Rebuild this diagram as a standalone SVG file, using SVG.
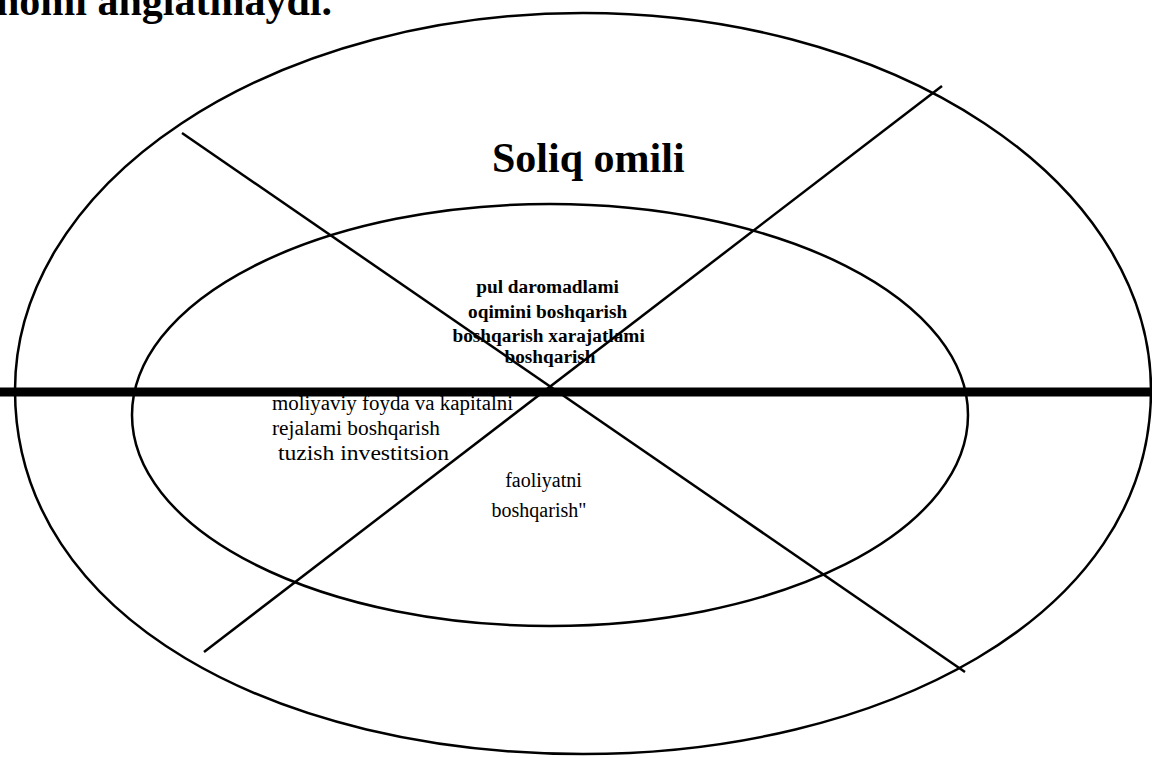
<svg xmlns="http://www.w3.org/2000/svg" width="1152" height="758" viewBox="0 0 1152 758">
  <style>
    .shape { fill: none; stroke: #000; stroke-width: 2.5; }
    .ln { stroke: #000; stroke-width: 2.5; fill: none; }
    .thick { stroke: #000; stroke-width: 9; }
    .t { font-family: "Liberation Serif", "Times New Roman", serif; fill: #000; }
    .small { font-size: 20px; }
    .bold { font-weight: bold; font-size: 19.3px; }
    .title { font-size: 42px; font-weight: bold; }
    .head { font-size: 42px; font-weight: bold; }
  </style>
  <rect width="1152" height="758" fill="#fff"/>
  <g id="heading">
    <text class="t head" x="-4" y="15">nomi anglatmaydi.</text>
  </g>
  <g id="outer-ellipse">
    <path class="shape" d="M1151,390 A568,377 0 0 0 15,390 C15,620 280,754 583,754 C876,754 1151,620 1151,390 Z"/>
    <text class="t title" x="492" y="172">Soliq omili</text>
  </g>
  <g id="inner-ellipse">
    <ellipse class="shape" cx="550" cy="415" rx="418" ry="211"/>
  </g>
  <g id="connectors">
    <line class="thick" x1="0" y1="392" x2="1152" y2="392"/>
    <line class="ln" x1="182" y1="133" x2="965" y2="672"/>
    <line class="ln" x1="942" y1="86" x2="204" y2="652"/>
  </g>
  <g id="top-sector">
    <text class="t bold" text-anchor="middle">
      <tspan x="550" y="293">pul daromadlami</tspan>
      <tspan x="550" y="318">oqimini boshqarish</tspan>
      <tspan x="551" y="342">boshqarish xarajatlami</tspan>
      <tspan x="550" y="363">boshqarish</tspan>
    </text>
  </g>
  <g id="left-sector">
    <text class="t small" x="272" y="410" textLength="241" lengthAdjust="spacingAndGlyphs">moliyaviy foyda va kapitalni</text>
    <text class="t small" x="272" y="435" textLength="168" lengthAdjust="spacingAndGlyphs">rejalami boshqarish</text>
    <text class="t small" x="278" y="460" textLength="171" lengthAdjust="spacingAndGlyphs">tuzish investitsion</text>
  </g>
  <g id="bottom-sector">
    <text class="t small" text-anchor="middle">
      <tspan x="546" y="487">faoliyatni</tspan>
      <tspan x="539" y="517">boshqarish"</tspan>
    </text>
  </g>
</svg>
